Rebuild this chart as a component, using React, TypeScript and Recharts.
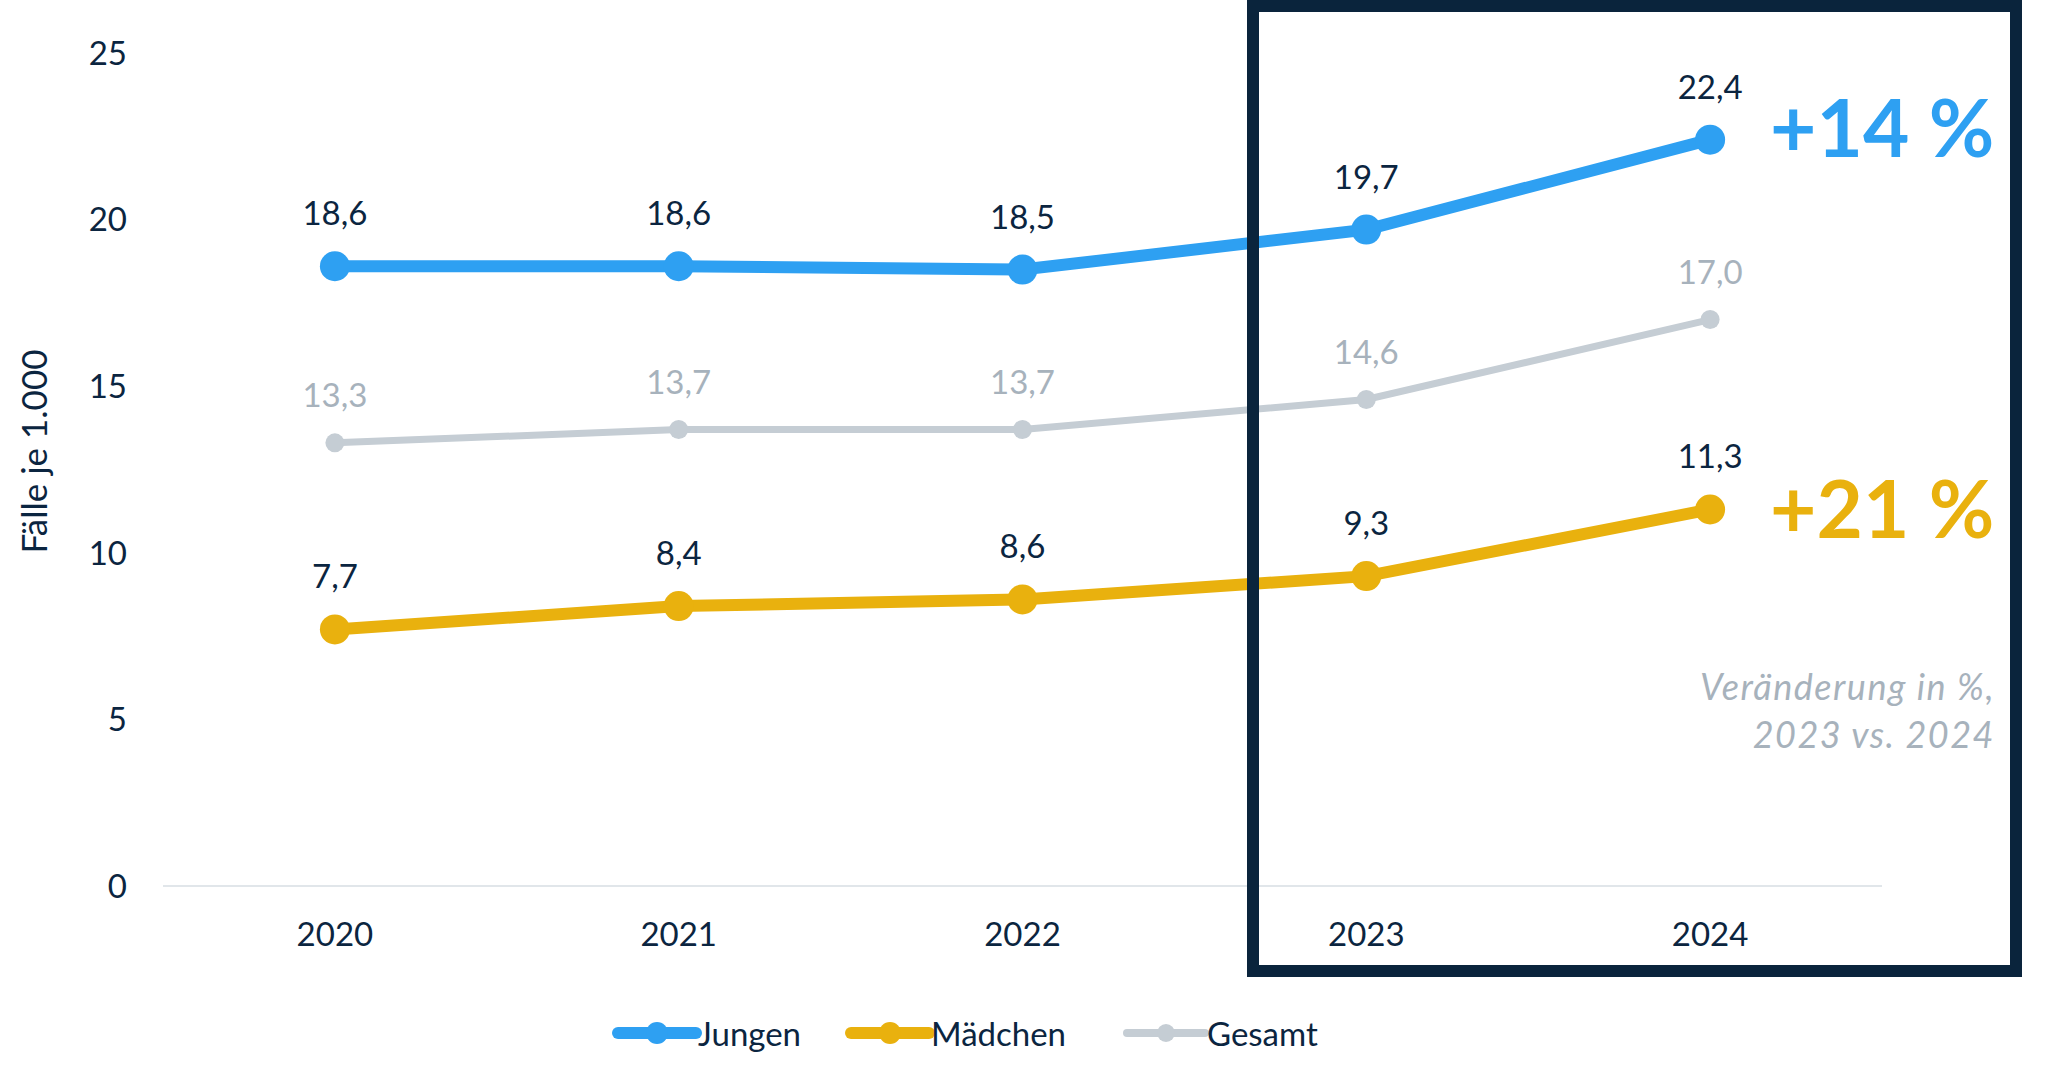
import React from 'react';
import { LineChart, Line, XAxis, YAxis, Legend, LabelList, Label } from 'recharts';

// ---------- data ----------
const years = ['2020', '2021', '2022', '2023', '2024'];
const jungen = [18.6, 18.6, 18.5, 19.7, 22.4];
const maedchen = [7.7, 8.4, 8.6, 9.3, 11.3];
const gesamt = [13.3, 13.7, 13.7, 14.6, 17.0];
const yTicks = [0, 5, 10, 15, 20, 25];
const changeJungen = '+14 %';
const changeMaedchen = '+21 %';
const noteLines = ['Veränderung in %,', '2023 vs. 2024'];
const yAxisTitle = 'Fälle je 1.000';
const seriesNames = ['Jungen', 'Mädchen', 'Gesamt'];

const data = years.map((y, i) => ({
  year: y,
  jungen: jungen[i],
  maedchen: maedchen[i],
  gesamt: gesamt[i],
}));

// ---------- styles ----------
const FONT = 'Lato, "Open Sans", sans-serif';
const NAVY = '#0B2540';
const BLUE = '#2EA0F2';
const YELLOW = '#E9B10E';
const GRAY = '#C5CDD4';
const GRAY_TEXT = '#A7B2BC';
const BOX = '#0A243C';
const FS = 33;

const fmt = (v: number) => v.toFixed(1).replace('.', ',');

const makeLabel =
  (color: string, offset: number, change?: string, changeColor?: string, changeDy?: number) =>
  (props: any) => {
    const x = props.x ?? props.viewBox?.x;
    const y = props.y ?? props.viewBox?.y;
    const { value, index } = props;
    if (x == null || y == null) return null;
    return (
      <g>
        <text x={x} y={y - offset} textAnchor="middle" fill={color} fontSize={FS} fontFamily={FONT}>
          {fmt(Number(value))}
        </text>
        {change && index === years.length - 1 ? (
          <text
            x={x + 60}
            y={y + (changeDy || 0)}
            textAnchor="start"
            fill={changeColor}
            fontSize={80}
            fontWeight={700}
            fontFamily={FONT}
          >
            {change}
          </text>
        ) : null}
      </g>
    );
  };

const YTitle = (props: any) => {
  const vb = props.viewBox || {};
  const bx = vb.x ?? 0;
  const by = vb.y ?? 53;
  const bh = vb.height ?? 833;
  const cx = bx + 47;
  const cy = by + bh / 2 - 18;
  return (
    <text
      x={cx}
      y={cy}
      transform={`rotate(-90 ${cx} ${cy})`}
      textAnchor="middle"
      fill={NAVY}
      fontSize={35}
      fontFamily={FONT}
    >
      {yAxisTitle}
    </text>
  );
};

const legendItems = [
  { name: seriesNames[0], color: BLUE, sw: 12, r: 11, w: 233 },
  { name: seriesNames[1], color: YELLOW, sw: 12, r: 11, w: 276 },
  { name: seriesNames[2], color: GRAY, sw: 8, r: 9, w: 240 },
];

const LegendContent = () => (
  <div style={{ display: 'flex', alignItems: 'center', height: 46, marginLeft: 606 }}>
    {legendItems.map((it) => (
      <div key={it.name} style={{ display: 'flex', alignItems: 'center', width: it.w }}>
        <svg width={96} height={30} style={{ display: 'block' }}>
          <line x1={12} x2={90} y1={15} y2={15} stroke={it.color} strokeWidth={it.sw} strokeLinecap="round" />
          <circle cx={51} cy={15} r={it.r} fill={it.color} />
        </svg>
        <span style={{ fontSize: FS, color: NAVY, fontFamily: FONT, marginLeft: -4, lineHeight: '46px' }}>
          {it.name}
        </span>
      </div>
    ))}
  </div>
);

export default function App() {
  return (
    <div style={{ position: 'relative', width: 2048, height: 1090, background: '#fff' }}>
      <style>{`body{margin:0;background:#fff}`}</style>
      <LineChart
        width={2048}
        height={1090}
        data={data}
        margin={{ top: 53, right: 166, bottom: 144, left: 0 }}
      >
        <XAxis
          dataKey="year"
          scale="band"
          axisLine={{ stroke: '#E1E6EA', strokeWidth: 2 }}
          tickLine={false}
          tickMargin={31}
          height={60}
          tick={{ fill: NAVY, fontSize: FS, fontFamily: FONT }}
        />
        <YAxis
          domain={[0, 25]}
          ticks={yTicks}
          axisLine={false}
          tickLine={false}
          tickMargin={30}
          width={163}
          tick={{ fill: NAVY, fontSize: FS, fontFamily: FONT }}
          label={<Label content={YTitle} />}
        />
        <Legend
          layout="horizontal"
          verticalAlign="middle"
          align="center"
          wrapperStyle={{ top: 1010, left: 0, width: 2048 }}
          content={LegendContent}
        />
        <Line
          type="linear"
          dataKey="gesamt"
          name={seriesNames[2]}
          stroke={GRAY}
          strokeWidth={7}
          dot={{ r: 9.5, fill: GRAY, stroke: GRAY, strokeWidth: 0 }}
          isAnimationActive={false}
        >
          <LabelList dataKey="gesamt" content={makeLabel(GRAY_TEXT, 36)} />
        </Line>
        <Line
          type="linear"
          dataKey="maedchen"
          name={seriesNames[1]}
          stroke={YELLOW}
          strokeWidth={12}
          dot={{ r: 15, fill: YELLOW, stroke: YELLOW, strokeWidth: 0 }}
          isAnimationActive={false}
        >
          <LabelList dataKey="maedchen" content={makeLabel(NAVY, 41, changeMaedchen, YELLOW, 29)} />
        </Line>
        <Line
          type="linear"
          dataKey="jungen"
          name={seriesNames[0]}
          stroke={BLUE}
          strokeWidth={12}
          dot={{ r: 15, fill: BLUE, stroke: BLUE, strokeWidth: 0 }}
          isAnimationActive={false}
        >
          <LabelList dataKey="jungen" content={makeLabel(NAVY, 41, changeJungen, BLUE, 17)} />
        </Line>
      </LineChart>
      <svg
        width={2048}
        height={1090}
        style={{ position: 'absolute', left: 0, top: 0, pointerEvents: 'none' }}
      >
        <rect x={1253} y={6} width={763} height={965} fill="none" stroke={BOX} strokeWidth={12} />
        {noteLines.map((t, i) => (
          <text
            key={t}
            x={1995}
            y={700 + i * 48}
            textAnchor="end"
            fill={GRAY_TEXT}
            fontSize={36}
            letterSpacing={1.5}
            fontStyle="italic"
            fontFamily={FONT}
          >
            {t}
          </text>
        ))}
      </svg>
    </div>
  );
}
